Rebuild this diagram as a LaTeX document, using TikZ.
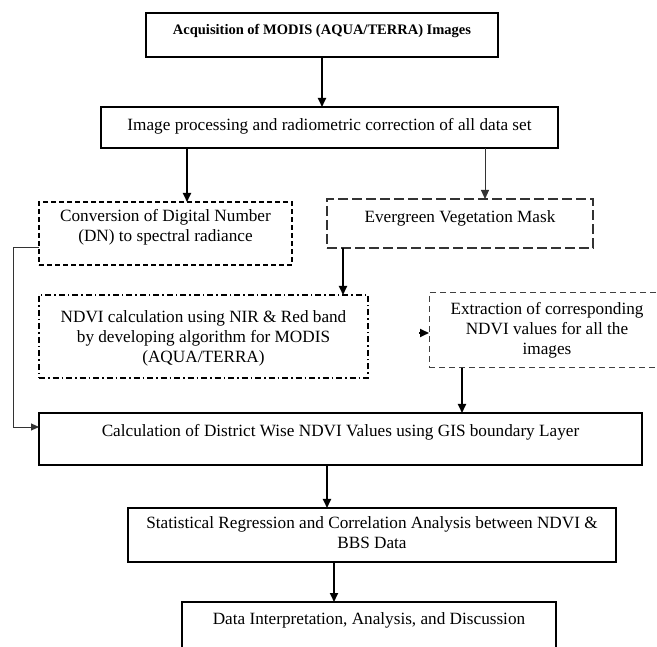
\documentclass[tikz,border=0pt]{standalone}
\usepackage{fontspec}
\setmainfont{Liberation Serif}
\usetikzlibrary{arrows.meta}
\newcommand{\bxt}[2]{\raisebox{\dimexpr #1pt-5.85pt\relax}{\begin{tabular}{@{}c@{}}#2\end{tabular}}}
\newcommand{\bxtb}[2]{\raisebox{\dimexpr #1pt-4.8pt\relax}{\begin{tabular}{@{}c@{}}#2\end{tabular}}}
\begin{document}
\begin{tikzpicture}[x=1pt,y=-1pt,
  every node/.style={font=\fontsize{17.2}{20}\selectfont},
  bx/.style={rectangle, inner xsep=0pt, inner ysep=0pt, text height=0pt, text depth=0pt, outer sep=0pt},
  solidbox/.style={bx, draw, line width=1.3pt},
  convbox/.style={bx, draw, line width=1.5pt, dash pattern=on 5pt off 3pt},
  evbox/.style={bx, draw=black!80, line width=1.8pt, dash pattern=on 10pt off 4pt},
  ndvibox/.style={bx, draw, line width=1.3pt, dash pattern=on 6pt off 3pt on 1.5pt off 3pt},
  extbox/.style={bx, draw=black!75, line width=1pt, dash pattern=on 6pt off 4pt},
  arr/.style={-{Triangle[length=9pt,width=8pt]}, line width=2pt},
  lightarr/.style={-{Triangle[length=9pt,width=8pt]}, line width=1pt, draw=black!80},
  thinarr/.style={-{Triangle[length=8pt,width=7pt]}, line width=0.9pt, draw=black!80}
]
\useasboundingbox (0,0) rectangle (657,647);
\clip (0,0) rectangle (657,647);

\node[solidbox, minimum width=352pt, minimum height=44pt, font=\bfseries\fontsize{14.5}{18}\selectfont] (acq) at (322,35) {\bxtb{5.5}{Acquisition of MODIS (AQUA/TERRA) Images}};
\node[solidbox, minimum width=457pt, minimum height=41pt] (proc) at (329.5,127.5) {\bxt{3}{Image processing and radiometric correction of all data set}};
\node[convbox, minimum width=253pt, minimum height=63pt] (conv) at (165.5,233.5) {\bxt{7.5}{Conversion of Digital Number\\(DN) to spectral radiance}};
\node[evbox, minimum width=266pt, minimum height=49pt] (ever) at (460,223.5) {\bxt{7}{Evergreen Vegetation Mask}};
\node[ndvibox, minimum width=329pt, minimum height=83pt] (ndvi) at (203.5,336.5) {\bxt{0}{NDVI calculation using NIR \& Red band\\by developing algorithm for MODIS\\(AQUA/TERRA)}};
\node[extbox, minimum width=236pt, minimum height=75pt] (ext) at (547,330.5) {\bxt{1.5}{Extraction of corresponding\\NDVI values for all the\\images}};
\node[solidbox, minimum width=603pt, minimum height=52pt] (calc) at (340.5,439) {\bxt{8.5}{Calculation of District Wise NDVI Values using GIS boundary Layer}};
\node[solidbox, minimum width=488pt, minimum height=54pt] (stat) at (372,535) {\bxt{2}{Statistical Regression and Correlation Analysis between NDVI \&\\BBS Data}};
\node[solidbox, minimum width=374pt, minimum height=60pt] (data) at (369,632) {\bxt{13}{Data Interpretation, Analysis, and Discussion}};

\coordinate (xa) at (322,0);
\coordinate (xb) at (187,0);
\coordinate (xc) at (485,0);
\coordinate (xd) at (343,0);
\coordinate (xf) at (462,0);
\coordinate (xh) at (327,0);
\coordinate (xi) at (334,0);
\coordinate (ea) at (419,333);
\coordinate (la) at (13,247);
\coordinate (lb) at (13,427);

\draw[arr] (acq.south -| xa) -- (proc.north -| xa);
\draw[arr] (proc.south -| xb) -- (conv.north -| xb);
\draw[lightarr] (proc.south -| xc) -- (ever.north -| xc);
\draw[arr] (ever.south -| xd) -- (ndvi.north -| xd);
\draw[arr] (ea) -- (ext.west |- ea);
\draw[arr] (ext.south -| xf) -- (calc.north -| xf);
\draw[thinarr] (conv.west |- la) -- (la) -- (lb) -- (calc.west |- lb);
\draw[arr] (calc.south -| xh) -- (stat.north -| xh);
\draw[arr] (stat.south -| xi) -- (data.north -| xi);
\end{tikzpicture}
\end{document}
